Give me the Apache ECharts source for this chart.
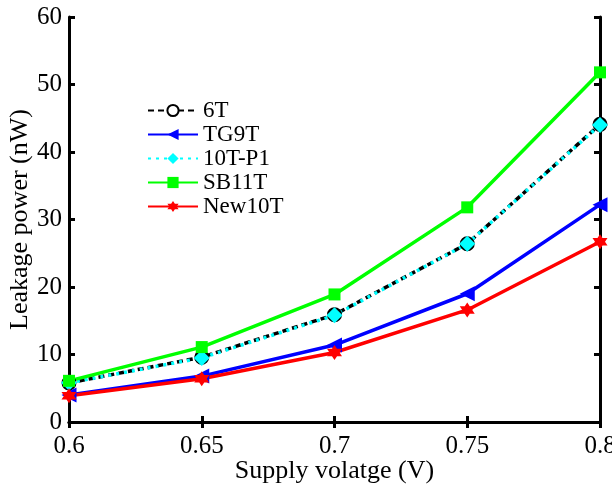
<!DOCTYPE html>
<html>
<head>
<meta charset="utf-8">
<script src="https://cdn.jsdelivr.net/npm/echarts@6/dist/echarts.min.js"></script>
<style>
  html, body { margin: 0; padding: 0; background: #fff; }
  #chart { width: 612px; height: 491px; }
</style>
</head>
<body>
<div id="chart"></div>
<script>
// supply voltage (V)
const voltages = [0.6, 0.65, 0.7, 0.75, 0.8]
const yTicks = [0, 10, 20, 30, 40, 50, 60]

// leakage power (nW)
const leak6T = [5.8, 9.6, 15.9, 26.4, 44.1]
const leakTG9T = [4.0, 6.8, 11.4, 19.0, 32.2]
const leak10TP1 = [5.8, 9.5, 15.8, 26.4, 44.0]
const leakSB11T = [6.1, 11.1, 18.9, 31.8, 51.8]
const leakNew10T = [3.9, 6.4, 10.3, 16.6, 26.7]

const font = 'Liberation Serif, Times New Roman, serif'
const star = 'path://M0,-10 L2.9,-5 L8.66,-5 L5.8,0 L8.66,5 L2.9,5 L0,10 L-2.9,5 L-8.66,5 L-5.8,0 L-8.66,-5 L-2.9,-5 Z'

const pairs = arr => voltages.map((v, i) => [v, arr[i]])

function line(name, data, color, opts) {
  return Object.assign({
    name: name,
    type: 'line',
    data: pairs(data),
    symbolSize: 11,
    itemStyle: { color: color },
    lineStyle: { color: color, width: 3.5 },
    emphasis: { disabled: true },
    animation: false
  }, opts)
}

let myChart = echarts.init(document.getElementById('chart'))
let option = {
  backgroundColor: '#fff',
  grid: { left: 69, top: 17, width: 531, height: 405, show: false, containLabel: false, outerBoundsMode: 'none' },
  legend: {
    orient: 'vertical',
    left: 142,
    top: 94,
    itemWidth: 50,
    itemHeight: 14,
    itemGap: 1,
    textStyle: { fontFamily: font, fontSize: 23, color: '#000', padding: [0, 0, 0, 0] },
    data: ['6T', 'TG9T', '10T-P1', 'SB11T', 'New10T']
  },
  xAxis: [
    {
      type: 'value',
      min: 0.6,
      max: 0.8,
      interval: 0.05,
      name: 'Supply volatge (V)',
      nameLocation: 'middle',
      nameGap: 36,
      nameMoveOverlap: false,
      nameTextStyle: { fontFamily: font, fontSize: 26, color: '#000' },
      axisLine: { lineStyle: { color: '#000', width: 3 } },
      axisTick: { inside: true, length: 6, lineStyle: { color: '#000', width: 3 } },
      axisLabel: {
        fontFamily: font, fontSize: 25, color: '#000', margin: 12,
        formatter: v => String(Math.round(v * 100) / 100)
      },
      splitLine: { show: false }
    },
    {
      type: 'value',
      position: 'top',
      min: 0.6,
      max: 0.8,
      interval: 0.05,
      axisLine: { lineStyle: { color: '#000', width: 3 } },
      axisTick: { inside: true, length: 6, lineStyle: { color: '#000', width: 3 } },
      axisLabel: { show: false },
      splitLine: { show: false }
    }
  ],
  yAxis: [
    {
      type: 'value',
      min: yTicks[0],
      max: yTicks[yTicks.length - 1],
      interval: 10,
      name: 'Leakage power (nW)',
      nameLocation: 'middle',
      nameGap: 36,
      nameMoveOverlap: false,
      nameTextStyle: { fontFamily: font, fontSize: 26, color: '#000' },
      axisLine: { show: true, lineStyle: { color: '#000', width: 3 } },
      axisTick: { show: true, inside: true, length: 6, lineStyle: { color: '#000', width: 3 } },
      axisLabel: { fontFamily: font, fontSize: 25, color: '#000', margin: 7 },
      splitLine: { show: false }
    },
    {
      type: 'value',
      position: 'right',
      min: yTicks[0],
      max: yTicks[yTicks.length - 1],
      interval: 10,
      axisLine: { show: true, lineStyle: { color: '#000', width: 3 } },
      axisTick: { show: true, inside: true, length: 6, lineStyle: { color: '#000', width: 3 } },
      axisLabel: { show: false },
      splitLine: { show: false }
    }
  ],
  series: [
    line('6T', leak6T, '#000', {
      symbol: 'circle',
      symbolSize: 12,
      itemStyle: { color: '#fff', borderColor: '#000', borderWidth: 3 },
      lineStyle: { color: '#000', width: 3.5, type: [6, 4] }
    }),
    line('TG9T', leakTG9T, '#0000ff', { symbol: 'triangle', symbolRotate: 90, symbolSize: 15 }),
    line('10T-P1', leak10TP1, '#00ffff', {
      symbol: 'diamond',
      symbolSize: 16,
      lineStyle: { color: '#00ffff', width: 3.5, type: [3, 5] }
    }),
    line('SB11T', leakSB11T, '#00ff00', { symbol: 'rect', symbolSize: 12 }),
    line('New10T', leakNew10T, '#ff0000', { symbol: star, symbolSize: 15 })
  ]
}
myChart.setOption(option)
</script>
</body>
</html>
